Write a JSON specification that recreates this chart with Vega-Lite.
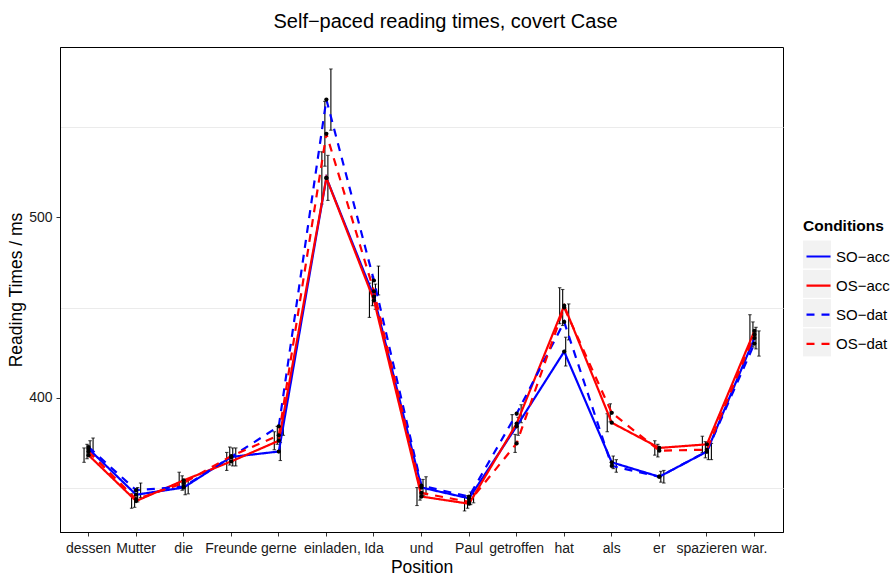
{
  "$schema": "https://vega.github.io/schema/vega-lite/v6.json",
  "width": 723,
  "height": 485,
  "autosize": "none",
  "padding": {"left": 60, "top": 47, "right": 110, "bottom": 45},
  "background": "white",
  "title": {
    "text": "Self−paced reading times, covert Case",
    "font": "Liberation Sans",
    "fontSize": 20,
    "fontWeight": "normal",
    "color": "black",
    "anchor": "middle",
    "baseline": "alphabetic",
    "offset": -1,
    "dx": 24
  },
  "config": {
    "font": "Liberation Sans",
    "view": {"stroke": "black", "strokeWidth": 1}
  },
  "data": {
    "values": [
      {"pos": "dessen", "cond": "SO−acc", "rt": 371.5, "lo": 367, "hi": 376},
      {"pos": "dessen", "cond": "OS−acc", "rt": 368, "lo": 364, "hi": 372},
      {"pos": "dessen", "cond": "SO−dat", "rt": 372.5, "lo": 367.5, "hi": 377.5},
      {"pos": "dessen", "cond": "OS−dat", "rt": 370, "lo": 366, "hi": 374},
      {"pos": "Mutter", "cond": "SO−acc", "rt": 346, "lo": 342, "hi": 350},
      {"pos": "Mutter", "cond": "OS−acc", "rt": 342.5, "lo": 338.5, "hi": 346.5},
      {"pos": "Mutter", "cond": "SO−dat", "rt": 348.5, "lo": 344.5, "hi": 352.5},
      {"pos": "Mutter", "cond": "OS−dat", "rt": 343.5, "lo": 339, "hi": 348},
      {"pos": "die", "cond": "SO−acc", "rt": 350, "lo": 346, "hi": 354},
      {"pos": "die", "cond": "OS−acc", "rt": 354, "lo": 349.5, "hi": 358.5},
      {"pos": "die", "cond": "SO−dat", "rt": 350.5, "lo": 346.5, "hi": 354.5},
      {"pos": "die", "cond": "OS−dat", "rt": 352.5, "lo": 348.5, "hi": 356.5},
      {"pos": "Freunde", "cond": "SO−acc", "rt": 367, "lo": 362, "hi": 372},
      {"pos": "Freunde", "cond": "OS−acc", "rt": 364.5, "lo": 359.5, "hi": 369.5},
      {"pos": "Freunde", "cond": "SO−dat", "rt": 367, "lo": 362, "hi": 372},
      {"pos": "Freunde", "cond": "OS−dat", "rt": 367.5, "lo": 362.5, "hi": 372.5},
      {"pos": "gerne", "cond": "SO−acc", "rt": 370, "lo": 365, "hi": 375},
      {"pos": "gerne", "cond": "OS−acc", "rt": 376, "lo": 371, "hi": 381},
      {"pos": "gerne", "cond": "SO−dat", "rt": 384, "lo": 379, "hi": 389},
      {"pos": "gerne", "cond": "OS−dat", "rt": 379, "lo": 374, "hi": 384},
      {"pos": "einladen,", "cond": "SO−acc", "rt": 522, "lo": 509.5, "hi": 534.5},
      {"pos": "einladen,", "cond": "OS−acc", "rt": 522, "lo": 507.5, "hi": 536.5},
      {"pos": "einladen,", "cond": "SO−dat", "rt": 565.5, "lo": 548.5, "hi": 582.5},
      {"pos": "einladen,", "cond": "OS−dat", "rt": 546.5, "lo": 528.5, "hi": 564.5},
      {"pos": "Ida", "cond": "SO−acc", "rt": 456, "lo": 449, "hi": 463},
      {"pos": "Ida", "cond": "OS−acc", "rt": 454, "lo": 444.5, "hi": 463.5},
      {"pos": "Ida", "cond": "SO−dat", "rt": 465, "lo": 457, "hi": 473},
      {"pos": "Ida", "cond": "OS−dat", "rt": 459, "lo": 451, "hi": 467},
      {"pos": "und", "cond": "SO−acc", "rt": 350, "lo": 345.5, "hi": 354.5},
      {"pos": "und", "cond": "OS−acc", "rt": 345, "lo": 340, "hi": 350},
      {"pos": "und", "cond": "SO−dat", "rt": 351, "lo": 346, "hi": 356},
      {"pos": "und", "cond": "OS−dat", "rt": 347, "lo": 343, "hi": 351},
      {"pos": "Paul", "cond": "SO−acc", "rt": 344, "lo": 340.5, "hi": 347.5},
      {"pos": "Paul", "cond": "OS−acc", "rt": 341, "lo": 337, "hi": 345},
      {"pos": "Paul", "cond": "SO−dat", "rt": 345, "lo": 341.5, "hi": 348.5},
      {"pos": "Paul", "cond": "OS−dat", "rt": 342, "lo": 338.5, "hi": 345.5},
      {"pos": "getroffen", "cond": "SO−acc", "rt": 384, "lo": 379, "hi": 389},
      {"pos": "getroffen", "cond": "OS−acc", "rt": 385.5, "lo": 380.5, "hi": 390.5},
      {"pos": "getroffen", "cond": "SO−dat", "rt": 391, "lo": 386, "hi": 396},
      {"pos": "getroffen", "cond": "OS−dat", "rt": 374.5, "lo": 369.5, "hi": 379.5},
      {"pos": "hat", "cond": "SO−acc", "rt": 425.5, "lo": 417.5, "hi": 433.5},
      {"pos": "hat", "cond": "OS−acc", "rt": 451, "lo": 441, "hi": 461},
      {"pos": "hat", "cond": "SO−dat", "rt": 442, "lo": 432, "hi": 452},
      {"pos": "hat", "cond": "OS−dat", "rt": 450, "lo": 440, "hi": 460},
      {"pos": "als", "cond": "SO−acc", "rt": 364, "lo": 360.5, "hi": 367.5},
      {"pos": "als", "cond": "OS−acc", "rt": 386, "lo": 381, "hi": 391},
      {"pos": "als", "cond": "SO−dat", "rt": 362, "lo": 358.5, "hi": 365.5},
      {"pos": "als", "cond": "OS−dat", "rt": 391.5, "lo": 386.5, "hi": 396.5},
      {"pos": "er", "cond": "SO−acc", "rt": 356, "lo": 353, "hi": 359},
      {"pos": "er", "cond": "OS−acc", "rt": 372, "lo": 368, "hi": 376},
      {"pos": "er", "cond": "SO−dat", "rt": 356, "lo": 352.5, "hi": 359.5},
      {"pos": "er", "cond": "OS−dat", "rt": 370.5, "lo": 367, "hi": 374},
      {"pos": "spazieren", "cond": "SO−acc", "rt": 370, "lo": 365.5, "hi": 374.5},
      {"pos": "spazieren", "cond": "OS−acc", "rt": 374, "lo": 369.5, "hi": 378.5},
      {"pos": "spazieren", "cond": "SO−dat", "rt": 370, "lo": 365.5, "hi": 374.5},
      {"pos": "spazieren", "cond": "OS−dat", "rt": 371, "lo": 366.5, "hi": 375.5},
      {"pos": "war.", "cond": "SO−acc", "rt": 433, "lo": 427, "hi": 439},
      {"pos": "war.", "cond": "OS−acc", "rt": 437, "lo": 428, "hi": 446},
      {"pos": "war.", "cond": "SO−dat", "rt": 430, "lo": 423, "hi": 437},
      {"pos": "war.", "cond": "OS−dat", "rt": 435, "lo": 428, "hi": 442}
    ]
  },
  "encoding": {
    "x": {
      "field": "pos",
      "type": "nominal",
      "sort": ["dessen", "Mutter", "die", "Freunde", "gerne", "einladen,", "Ida", "und", "Paul", "getroffen", "hat", "als", "er", "spazieren", "war."],
      "scale": {"type": "band", "paddingInner": 0.747, "paddingOuter": 0.474},
      "axis": {
        "title": "Position",
        "titleFontSize": 17.5,
        "titleFontWeight": "normal",
        "titleColor": "black",
        "titlePadding": 3,
        "labelFontSize": 14,
        "labelColor": "#1a1a1a",
        "labelAngle": 0,
        "labelPadding": 5,
        "labelOffset": {"condition": {"test": "datum.value == 'einladen,'", "value": 6}, "value": 0},
        "tickSize": 4,
        "tickColor": "#333333",
        "domainColor": "black",
        "grid": false
      }
    },
    "y": {
      "field": "rt",
      "type": "quantitative",
      "scale": {"domain": [325.3, 594.7], "nice": false, "zero": false},
      "axis": {
        "title": "Reading Times / ms",
        "titleFontSize": 17.5,
        "titleFontWeight": "normal",
        "titleColor": "black",
        "titlePadding": 3,
        "values": [350, 400, 450, 500, 550],
        "labelExpr": "datum.value % 100 == 0 ? datum.label : ''",
        "labelFontSize": 14,
        "labelColor": "#1a1a1a",
        "labelPadding": 4,
        "tickSize": 4,
        "tickColor": "#333333",
        "tickOpacity": {"condition": {"test": "datum.value % 100 == 0", "value": 1}, "value": 0},
        "grid": true,
        "gridColor": "#EBEBEB",
        "gridOpacity": {"condition": {"test": "datum.value % 100 == 0", "value": 0}, "value": 1},
        "domainColor": "black"
      }
    }
  },
  "layer": [
    {
      "mark": {"type": "point", "filled": true, "opacity": 0},
      "encoding": {
        "fill": {
          "field": "cond",
          "type": "nominal",
          "scale": {"range": ["#F2F2F2", "#F2F2F2", "#F2F2F2", "#F2F2F2"]},
          "legend": {
            "title": "Conditions",
            "titleFontSize": 15.5,
            "titleFontWeight": "bold",
            "titleColor": "black",
            "titlePadding": 6,
            "orient": "none",
            "legendX": 743,
            "legendY": 172,
            "padding": 0,
            "symbolType": "square",
            "symbolSize": 784,
            "symbolStrokeWidth": 0,
            "symbolOpacity": 1,
            "rowPadding": 1.3,
            "labelExpr": "''",
            "labelFontSize": 15,
            "zindex": 0,
            "encode": {"symbols": {"update": {"opacity": {"value": 1}, "fill": {"value": "#F2F2F2"}}}}
          }
        }
      }
    },
    {
      "mark": {"type": "rule", "color": "black", "strokeWidth": 1.1},
      "encoding": {
        "y": {"field": "lo", "type": "quantitative"},
        "y2": {"field": "hi"},
        "xOffset": {"field": "cond", "type": "nominal", "sort": ["OS−acc", "OS−dat", "SO−acc", "SO−dat"], "scale": {"paddingInner": 0, "paddingOuter": 0}}
      }
    },
    {
      "mark": {"type": "tick", "color": "black", "size": 3.5, "thickness": 1.1},
      "encoding": {
        "y": {"field": "lo", "type": "quantitative"},
        "xOffset": {"field": "cond", "type": "nominal", "sort": ["OS−acc", "OS−dat", "SO−acc", "SO−dat"], "scale": {"paddingInner": 0, "paddingOuter": 0}}
      }
    },
    {
      "mark": {"type": "tick", "color": "black", "size": 3.5, "thickness": 1.1},
      "encoding": {
        "y": {"field": "hi", "type": "quantitative"},
        "xOffset": {"field": "cond", "type": "nominal", "sort": ["OS−acc", "OS−dat", "SO−acc", "SO−dat"], "scale": {"paddingInner": 0, "paddingOuter": 0}}
      }
    },
    {
      "mark": {"type": "line", "strokeWidth": 2.2},
      "encoding": {
        "order": {"value": null},
        "stroke": {
          "field": "cond",
          "type": "nominal",
          "scale": {"domain": ["SO−acc", "OS−acc", "SO−dat", "OS−dat"], "range": ["#0000FF", "#FF0000", "#0000FF", "#FF0000"]},
          "legend": {
            "title": null,
            "orient": "none",
            "legendX": 745,
            "legendY": 196,
            "padding": 0,
            "symbolType": "stroke",
            "symbolSize": 576,
            "symbolStrokeWidth": 2.2,
            "rowPadding": 7.1,
            "labelFontSize": 15,
            "labelColor": "black",
            "labelOffset": 4,
            "zindex": 1
          }
        },
        "strokeDash": {
          "field": "cond",
          "type": "nominal",
          "scale": {"domain": ["SO−acc", "OS−acc", "SO−dat", "OS−dat"], "range": [[1, 0], [1, 0], [8, 7], [8, 7]]},
          "legend": {
            "title": null,
            "orient": "none",
            "legendX": 745,
            "legendY": 196,
            "padding": 0,
            "symbolType": "stroke",
            "symbolSize": 576,
            "symbolStrokeWidth": 2.2,
            "rowPadding": 7.1,
            "labelFontSize": 15,
            "labelColor": "black",
            "labelOffset": 4,
            "zindex": 1
          }
        }
      }
    },
    {
      "mark": {"type": "point", "filled": true, "color": "black", "size": 18, "opacity": 1},
      "encoding": {}
    }
  ]
}
